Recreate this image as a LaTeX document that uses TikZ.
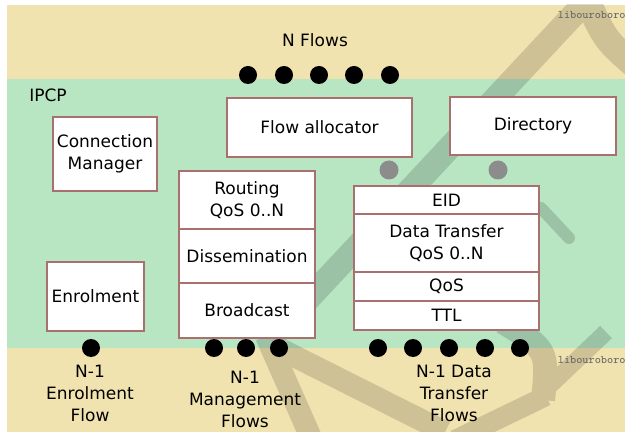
\documentclass[tikz,border=0pt]{standalone}
\usepackage{fontspec}
\setmainfont{DejaVu Sans}
\usetikzlibrary{positioning}
\definecolor{bandsand}{RGB}{241,227,176}
\definecolor{bandgreen}{RGB}{184,229,194}
\definecolor{boxrim}{RGB}{170,112,112}
\definecolor{portgray}{RGB}{140,140,140}
\tikzset{part/.style={draw=boxrim, line width=0.75pt, fill=white, outer sep=0pt, inner sep=1pt, align=center},
	%black flow ends
	flowdot/.style={circle, fill=black, minimum size=9pt, inner sep=0pt},
	portdot/.style={circle, fill=portgray, minimum size=9.5pt, inner sep=0pt},
	lbl/.style={align=center, inner sep=0pt},
	logo/.style={font=\ttfamily\fontsize{5.8}{7}\selectfont, text=black!60, inner sep=0pt, anchor=east}}

\begin{document}
\begin{tikzpicture}[x=0.5pt, y=-0.5pt, every node/.append style={font=\fontsize{8.5}{11}\selectfont}]
		\useasboundingbox (0,0) rectangle (625,432);
		% bands
		\fill[bandsand] (7,5) rectangle (625,79);
		\fill[bandgreen] (7,79) rectangle (625,348);
		\fill[bandsand] (7,348) rectangle (625,432);
		% watermark
		\begin{scope}
			\clip (7,5) rectangle (625,432);
			\begin{scope}[transparency group, opacity=0.15]
				\draw[line width=12pt] (592,-5) -- (268,342);
				\draw[line width=11pt] (266,336) -- (312,440);
				\draw[line width=11pt] (282,350) -- (445,432);
				\draw[line width=13pt] (585,-5) .. controls (605,40) .. (640,70);
				\draw[line width=6pt, line cap=round] (541,208) -- (569,238);
				\draw[line width=12pt] (503,322) .. controls (548,350) .. (543,400);
				\draw[line width=8.5pt] (606,332) -- (543,392);
				\draw[line width=10pt] (546,396) -- (455,440);
			\end{scope}
		\end{scope}
%		\draw[step=25,help lines,black!20] (0,0) grid (625,432);
		\node[logo] (logotop) at (626,15) {libouroboro};
		\node[logo] (logobot) at (626,360) {libouroboro};

		\node (nflows) at (315,40) {N Flows};
		\node (ipcp) at (48,95) {IPCP};

		\node[part, minimum width=52pt, minimum height=37pt] (connmgr) at (105,154) {Connection\\Manager};
		\node[part, minimum width=48.5pt, minimum height=34.5pt] (enrol) at (95.5,296.5) {Enrolment};
		\node[part, minimum width=92.5pt, minimum height=29.5pt] (flowalloc) at (319.5,127.5) {Flow allocator};
		\node[part, minimum width=83pt, minimum height=29pt] (dir) at (533,126) {Directory};

		% management stack
		\node[part, anchor=north, minimum width=68pt, minimum height=29pt] (routing) at (247,171) {Routing\\QoS 0..N};
		\node[part, below=0pt of routing, minimum width=68pt, minimum height=27pt] (dissem) {Dissemination};
		\node[part, below=0pt of dissem, minimum width=68pt, minimum height=27.5pt] (bcast) {Broadcast};

		% data transfer stack
		\node[part, anchor=north, minimum width=92.5pt, minimum height=14pt] (eid) at (446.5,186) {EID};
		\node[part, below=0pt of eid, minimum width=92.5pt, minimum height=29pt] (dt) {Data Transfer\\QoS 0..N};
		\node[part, below=0pt of dt, minimum width=92.5pt, minimum height=14.5pt] (qos) {QoS};
		\node[part, below=0pt of qos, minimum width=92.5pt, minimum height=14.5pt] (ttl) {TTL};

		\node[portdot] (faport) at (389,170) {};
		\node[portdot] (dirport) at (498,170) {};

		% N flows
		\node[flowdot] (nf1) at (248,75) {};
		\node[flowdot] (nf2) at (284,75) {};
		\node[flowdot] (nf3) at (319,75) {};
		\node[flowdot] (nf4) at (354,75) {};
		\node[flowdot] (nf5) at (390,75) {};

		% N-1 flows
		\node[flowdot] (ef1) at (91,348) {};
		\node[flowdot] (mf1) at (214,348) {};
		\node[flowdot] (mf2) at (246,348) {};
		\node[flowdot] (mf3) at (279,348) {};
		\node[flowdot] (df1) at (378,348) {};
		\node[flowdot] (df2) at (413,348) {};
		\node[flowdot] (df3) at (449,348) {};
		\node[flowdot] (df4) at (485,348) {};
		\node[flowdot] (df5) at (520,348) {};

		\node[lbl] (enrollbl) at (90,393) {N-1\\Enrolment\\Flow};
		\node[lbl] (mgmtlbl) at (245,399.5) {N-1\\Management\\Flows};
		\node[lbl] (dtlbl) at (454,393.5) {N-1 Data\\Transfer\\Flows};
	\end{tikzpicture}
\end{document}
